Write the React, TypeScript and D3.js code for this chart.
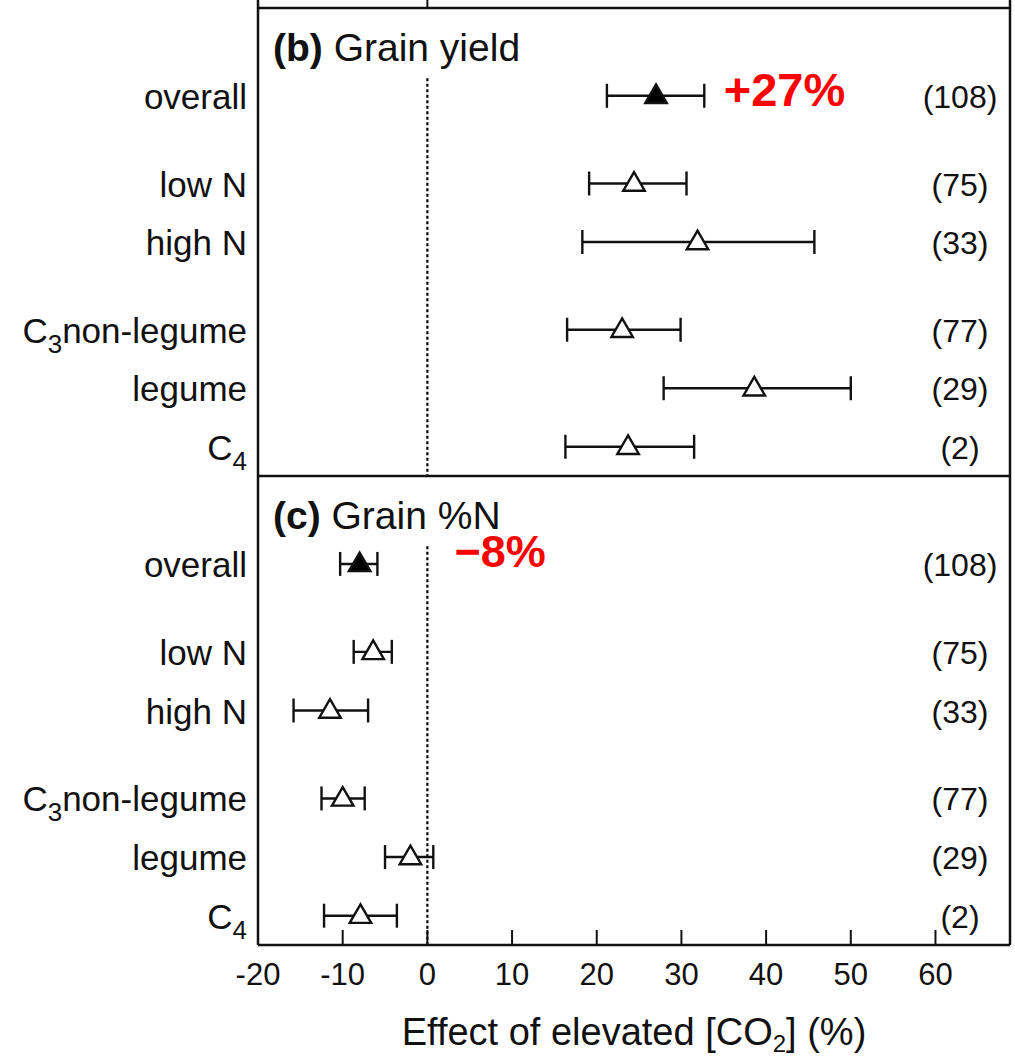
import React from 'react';
import * as d3 from 'd3';

// ---- data ----
const categories = ['overall', 'low N', 'high N', 'C_{3}non-legume', 'legume', 'C_{4}'];
const rowPositions = [0, 1.5, 2.5, 4, 5, 6];
const counts = ['(108)', '(75)', '(33)', '(77)', '(29)', '(2)'];
const yieldMean = [27.0, 24.4, 31.9, 23.0, 38.6, 23.7];
const yieldLo = [21.2, 19.1, 18.3, 16.5, 27.9, 16.3];
const yieldHi = [32.7, 30.6, 45.7, 29.9, 50.0, 31.5];
const nMean = [-8.0, -6.4, -11.5, -10.0, -2.0, -7.9];
const nLo = [-10.3, -8.7, -15.8, -12.5, -5.0, -12.2];
const nHi = [-5.9, -4.2, -7.0, -7.4, 0.7, -3.6];
const xTicks = [-20, -10, 0, 10, 20, 30, 40, 50, 60];
const panels = [
  { tag: '(b)', title: 'Grain yield', mean: yieldMean, lo: yieldLo, hi: yieldHi, note: '+27%', noteX: 35, noteDy: 10 },
  { tag: '(c)', title: 'Grain %N', mean: nMean, lo: nLo, hi: nHi, note: '\u22128%', noteX: 3.2, noteDy: 3 },
];

const FONT = '"Liberation Sans", Arial, Helvetica, sans-serif';

function parseLabel(s: string) {
  const m = s.match(/^(.*?)_\{(.*?)\}(.*)$/);
  if (!m) return { a: s, sub: '', b: '' };
  return { a: m[1], sub: m[2], b: m[3] };
}

export default function App() {
  const W = 1015, H = 1058;
  const left = 258, right = 1010, top = 8, mid = 476, bottom = 945;
  const x = d3.scaleLinear().domain([-20, 68.8]).range([left, right]);
  const yScales = [
    d3.scaleLinear().domain([-1.5, 6.5]).range([top, mid]),
    d3.scaleLinear().domain([-1.5, 6.5]).range([mid, bottom]),
  ];
  const tri = d3.symbol().type(d3.symbolTriangle).size(200);
  const sw = 2.4;

  return (
    <svg width={W} height={H} style={{ position: 'absolute', left: 0, top: 0, background: '#fff' }} fontFamily={FONT}>
      <rect x={0} y={0} width={W} height={H} fill="#fff" />
      {panels.map((p, pi) => {
        const y = yScales[pi];
        const [y0, y1] = y.range();
        return (
          <g key={pi}>
            {/* zero reference line */}
            <line x1={x(0)} x2={x(0)} y1={y(-0.3)} y2={y1} stroke="#000" strokeWidth={2.2} strokeDasharray="3,2.5" />
            {/* title */}
            <text x={left + 15} y={y0 + 53} fontSize={39} fill="#111">
              <tspan fontWeight="bold">{p.tag}</tspan>
              <tspan> {p.title}</tspan>
            </text>
            {categories.map((c, i) => {
              const cy = y(rowPositions[i]);
              const lab = parseLabel(c);
              const filled = i === 0;
              return (
                <g key={i}>
                  <text x={247} y={cy + 13} fontSize={35} textAnchor="end" fill="#111">
                    {lab.sub ? (
                      <>
                        <tspan>{lab.a}</tspan>
                        <tspan fontSize={26} dy={10}>{lab.sub}</tspan>
                        <tspan dy={-10}>{lab.b}</tspan>
                      </>
                    ) : lab.a}
                  </text>
                  <line x1={x(p.lo[i])} x2={x(p.hi[i])} y1={cy} y2={cy} stroke="#111" strokeWidth={sw} />
                  <line x1={x(p.lo[i])} x2={x(p.lo[i])} y1={cy - 12} y2={cy + 12} stroke="#111" strokeWidth={sw} />
                  <line x1={x(p.hi[i])} x2={x(p.hi[i])} y1={cy - 12} y2={cy + 12} stroke="#111" strokeWidth={sw} />
                  <path d={tri() as string} transform={`translate(${x(p.mean[i])},${cy + 1})`}
                    fill={filled ? '#000' : '#fff'} stroke="#111" strokeWidth={sw} />
                  <text x={960} y={cy + 12} fontSize={32} textAnchor="middle" fill="#111">{counts[i]}</text>
                </g>
              );
            })}
            <text x={x(p.noteX)} y={y(0) + p.noteDy} fontSize={pi === 0 ? 47 : 45} fontWeight="bold" fill="#ff0000">{p.note}</text>
          </g>
        );
      })}
      {/* frame */}
      <line x1={left} x2={left} y1={0} y2={bottom} stroke="#111" strokeWidth={2.5} />
      <line x1={right} x2={right} y1={0} y2={bottom} stroke="#111" strokeWidth={2.5} />
      <line x1={left} x2={right} y1={top} y2={top} stroke="#111" strokeWidth={2.5} />
      <line x1={left} x2={right} y1={mid} y2={mid} stroke="#111" strokeWidth={2.5} />
      <line x1={left} x2={right} y1={bottom} y2={bottom} stroke="#111" strokeWidth={2.5} />
      <line x1={x(0)} x2={x(0)} y1={0} y2={top} stroke="#111" strokeWidth={2} />
      {/* x axis */}
      {xTicks.map((t) => (
        <g key={t}>
          <line x1={x(t)} x2={x(t)} y1={bottom} y2={bottom - 15} stroke="#111" strokeWidth={2} />
          <text x={x(t)} y={bottom + 40} fontSize={31} textAnchor="middle" fill="#111">{t}</text>
        </g>
      ))}
      <text x={(left + right) / 2} y={1045} fontSize={38} textAnchor="middle" fill="#111">
        <tspan>Effect of elevated [CO</tspan>
        <tspan fontSize={24} dy={7}>2</tspan>
        <tspan dy={-7}>] (%)</tspan>
      </text>
    </svg>
  );
}
